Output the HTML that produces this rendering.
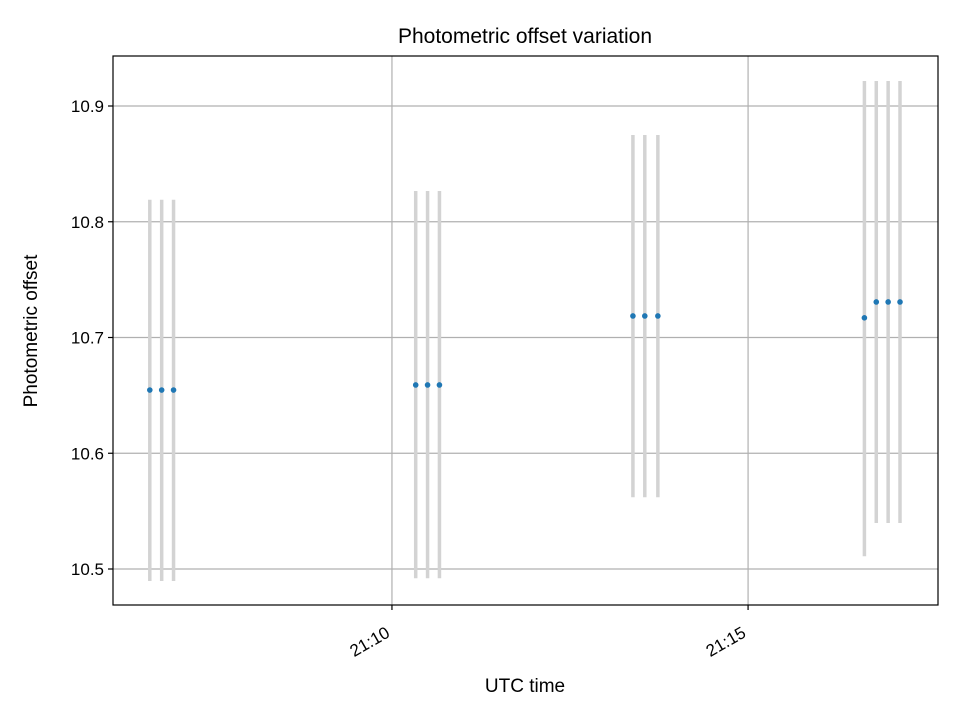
<!DOCTYPE html>
<html><head><meta charset="utf-8"><style>
body{margin:0;background:#fff;font-family:"Liberation Sans","DejaVu Sans",sans-serif}
</style></head><body>
<svg id="chart" width="960" height="720" xmlns="http://www.w3.org/2000/svg">
<rect width="960" height="720" fill="#fff"/>
<g id="grid"></g><g id="marks"></g><g id="axes"></g>
<text x="525" y="43" text-anchor="middle" font-size="21">Photometric offset variation</text>
<text x="525" y="692" text-anchor="middle" font-size="19">UTC time</text>
<text transform="translate(37,331) rotate(-90)" text-anchor="middle" font-size="19">Photometric offset</text>
</svg>
<script>
// seconds relative to 21:10:00
const times = [-204,-194,-184, 20,30,40, 203,213,224, 398,408,418,428];
const values = [10.6546,10.6546,10.6546, 10.659,10.659,10.659, 10.7186,10.7186,10.7186, 10.717,10.7307,10.7307,10.7307];
const errLow = [10.4896,10.4896,10.4896, 10.492,10.492,10.492, 10.562,10.562,10.562, 10.511,10.5397,10.5397,10.5397];
const errHigh = [10.819,10.819,10.819, 10.8266,10.8266,10.8266, 10.875,10.875,10.875, 10.9216,10.9216,10.9216,10.9216];
const yTicks = [10.5,10.6,10.7,10.8,10.9];
const xTicks = [0,300];
const xTickLabels = ["21:10","21:15"];

const L=113,R=938,T=56,B=605;
const xMin=-235,xMax=460,yMin=10.4689,yMax=10.9432;
const xs=v=>L+(v-xMin)/(xMax-xMin)*(R-L);
const ys=v=>B-(v-yMin)/(yMax-yMin)*(B-T);
const NS="http://www.w3.org/2000/svg";
function mk(tag,attrs,parent){const e=document.createElementNS(NS,tag);for(const k in attrs)e.setAttribute(k,attrs[k]);parent.appendChild(e);return e;}
const grid=document.getElementById('grid'),marks=document.getElementById('marks'),axes=document.getElementById('axes');
yTicks.forEach(t=>{
  const y=ys(t);
  const g=mk('line',{x1:L,x2:R,y1:y,y2:y,stroke:'#b0b0b0','stroke-width':1.2},grid);
  
  
  mk('line',{x1:L-5,x2:L,y1:y,y2:y,stroke:'#000','stroke-width':1.2},axes);
  const tx=mk('text',{x:L-9,y:y+6,'text-anchor':'end','font-size':17},axes);
  tx.textContent=t.toFixed(1);
  
  
});
xTicks.forEach((t,i)=>{
  const x=xs(t);
  const g=mk('line',{x1:x,x2:x,y1:T,y2:B,stroke:'#b0b0b0','stroke-width':1.2},grid);
  
  
  mk('line',{x1:x,x2:x,y1:B,y2:B+5,stroke:'#000','stroke-width':1.2},axes);
  const tx=mk('text',{transform:`translate(${x-1},${B+31}) rotate(-30)`,'text-anchor':'end','font-size':17},axes);
  tx.textContent=xTickLabels[i];
  
  
});
times.forEach((t,i)=>{
  const x=xs(t);
  const e=mk('line',{x1:x,x2:x,y1:ys(errHigh[i]),y2:ys(errLow[i]),stroke:'#d3d3d3','stroke-width':3.5},marks);
  
  
});
times.forEach((t,i)=>{
  const c=mk('circle',{cx:xs(t),cy:ys(values[i]),r:2.8,fill:'#1f77b4'},marks);
  
  
});
const f=mk('rect',{x:L,y:T,width:R-L,height:B-T,fill:'none',stroke:'#000','stroke-width':1.2},axes);


</script>
</body></html>
